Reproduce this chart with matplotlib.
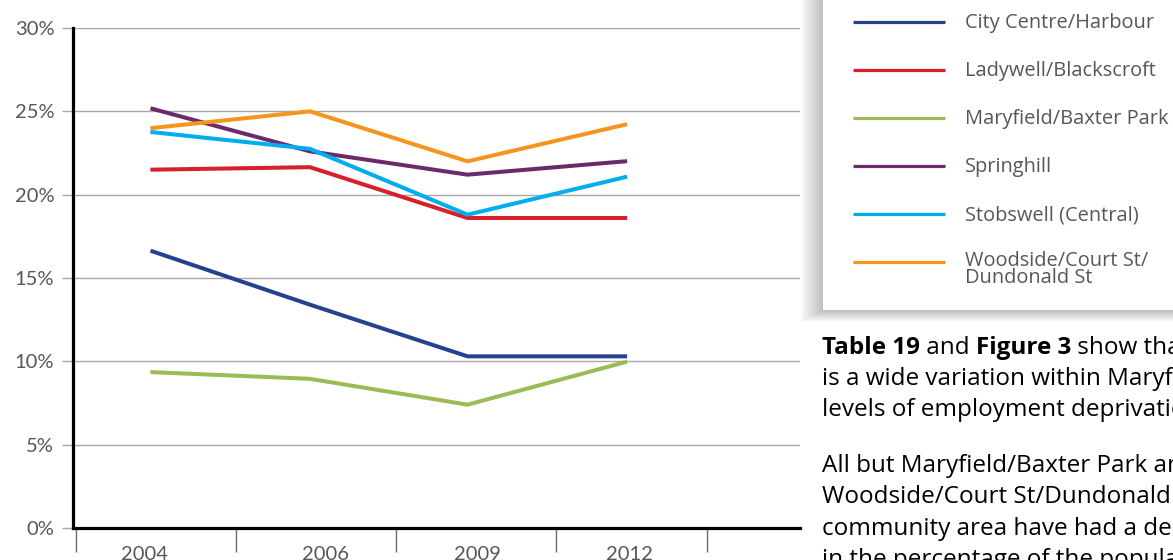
import matplotlib
matplotlib.use("Agg")
import matplotlib.pyplot as plt
from matplotlib.lines import Line2D
from matplotlib.patches import Rectangle
from matplotlib.ticker import FuncFormatter, FixedLocator


W, H = 1173, 560

years = ["2004", "2006", "2009", "2012"]
areas = [
    "City Centre/Harbour",
    "Ladywell/Blackscroft",
    "Maryfield/Baxter Park",
    "Springhill",
    "Stobswell (Central)",
    "Woodside/Court St/\nDundonald St",
]
city_centre = [16.6, 13.4, 10.3, 10.3]
ladywell = [21.5, 21.65, 18.6, 18.6]
maryfield = [9.35, 8.95, 7.4, 9.95]
springhill = [25.15, 22.6, 21.2, 22.0]
stobswell = [23.75, 22.75, 18.8, 21.05]
woodside = [24.0, 25.0, 22.0, 24.2]
series = [city_centre, ladywell, maryfield, springhill, stobswell, woodside]
colors = ["#27418f", "#d6202b", "#9bbb57", "#6a2a6c", "#00adef", "#f7941e"]

y_ticks = [0, 5, 10, 15, 20, 25, 30]

body = [
    [("Table 19", "bold"), (" and ", "normal"), ("Figure 3", "bold"), (" show that there", "normal")],
    [("is a wide variation within Maryfield", "normal")],
    [("levels of employment deprivation", "normal")],
    None,
    [("All but Maryfield/Baxter Park and", "normal")],
    [("Woodside/Court St/Dundonald St", "normal")],
    [("community area have had a decrease", "normal")],
    [("in the percentage of the population", "normal")],
]

TICK_FONT = "Lato"
TEXT_FONT = "Open Sans"
GREY_TXT = "#575757"


def fx(px):
    return px / W


def fy(py):
    return 1 - py / H


fig = plt.figure(figsize=(W / 100, H / 100), dpi=100)

# plot area in pixel terms
ax = fig.add_axes([fx(73), fy(528), fx(800) - fx(73), fy(28) - fy(528)])
x = list(range(len(years)))
for vals, name, col in zip(series, areas, colors):
    ax.plot(x, vals, color=col, linewidth=2.9, label=name, zorder=3)

ax.set_xlim(-0.504, 4.11)
ax.set_ylim(0, 30)

ax.yaxis.set_major_locator(FixedLocator(y_ticks))
ax.yaxis.set_major_formatter(FuncFormatter(lambda v, _: f"{v:.0f}%"))
ax.grid(axis="y", color="#a8a8a8", linewidth=1.0, zorder=0)
ax.tick_params(axis="y", length=8, width=1.0, color="#a8a8a8", pad=5.5,
               labelsize=14.5, labelcolor=GREY_TXT)

# year labels sit a little off the category boundaries
ax.set_xticks([-0.05, 1.1, 2.06, 3.03])
ax.set_xticklabels(years)
ax.set_xticks([-0.485, 0.53, 1.546, 2.56, 3.52], minor=True)
ax.tick_params(axis="x", which="major", length=0, pad=13, labelsize=14.5,
               labelcolor=GREY_TXT)
ax.tick_params(axis="x", which="minor", length=17, width=1.0, color="#6a6a6a",
               direction="out")
for lab in ax.get_xticklabels() + ax.get_yticklabels():
    lab.set_fontfamily(TICK_FONT)

for side in ("top", "right"):
    ax.spines[side].set_visible(False)
ax.spines["left"].set_linewidth(2.3)
ax.spines["bottom"].set_linewidth(2.3)
ax.spines["left"].set_color("black")
ax.spines["bottom"].set_color("black")
ax.set_axisbelow(True)

# legend panel with a soft drop shadow, running off the top and right edge
bx0, by1 = 823, 310
for k in range(16, 0, -1):
    fig.add_artist(Rectangle((fx(bx0 - 1.4 * k), fy(by1 + 0.75 * k)),
                             fx(W + 20) - fx(bx0 - 1.4 * k),
                             fy(-20) - fy(by1 + 0.75 * k),
                             transform=fig.transFigure, facecolor="black",
                             edgecolor="none", alpha=0.016, zorder=1))
fig.add_artist(Rectangle((fx(bx0), fy(by1)), fx(W + 20) - fx(bx0), fy(-20) - fy(by1),
                         transform=fig.transFigure, facecolor="white",
                         edgecolor="none", zorder=2))

leg_y0, leg_dy = 22, 48
for i, (name, col) in enumerate(zip(areas, colors)):
    ly = leg_y0 + i * leg_dy
    fig.add_artist(Line2D([fx(853), fx(945)], [fy(ly), fy(ly)], color=col,
                          linewidth=2.3, solid_capstyle="butt", zorder=3))
    if "\n" in name:
        fig.text(fx(965), fy(ly - 11), name, ha="left", va="top",
                 fontsize=14.4, family=TEXT_FONT, color=GREY_TXT,
                 linespacing=0.8, zorder=3)
    else:
        fig.text(fx(965), fy(ly + 1), name, ha="left", va="center",
                 fontsize=14.4, family=TEXT_FONT, color=GREY_TXT, zorder=3)

# body copy beside the chart, mixing bold and regular runs
renderer = fig.canvas.get_renderer()
line_y = [354, 385, 416, None, 472, 503, 535, 566]
for runs, ly in zip(body, line_y):
    if runs is None:
        continue
    cx = 822
    for txt, weight in runs:
        t = fig.text(fx(cx), fy(ly), txt, ha="left", va="baseline",
                     fontsize=17.5, family=TEXT_FONT, fontweight=weight,
                     color="black", zorder=3)
        cx += t.get_window_extent(renderer).width

fig.savefig("out.png", dpi=100)
